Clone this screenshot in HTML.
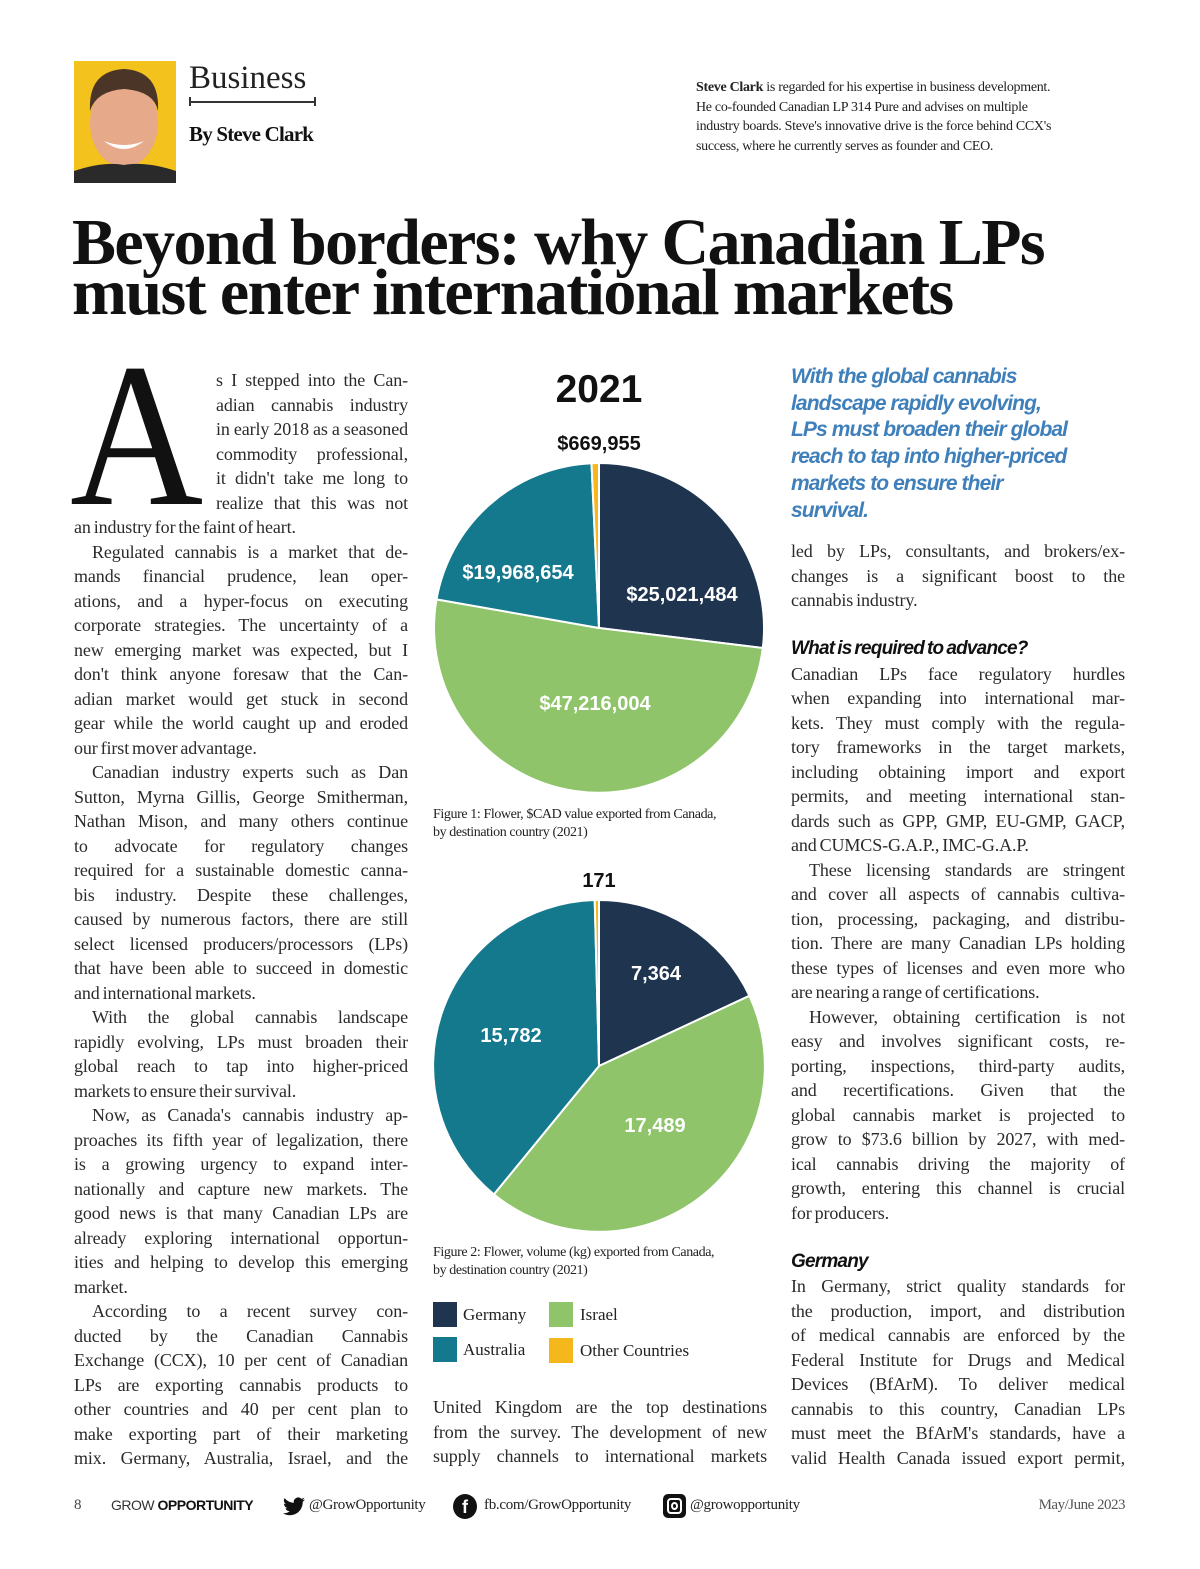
<!DOCTYPE html>
<html><head><meta charset="utf-8">
<style>
*{margin:0;padding:0;box-sizing:border-box}
html,body{width:1200px;height:1569px;background:#fff;overflow:hidden}
body{position:relative;font-family:"Liberation Serif",serif;color:#222}
.abs{position:absolute}
.col{position:absolute;font-size:18px;letter-spacing:-0.1px;word-spacing:-1.5px;color:#2a2a2a}
.l{height:24.5px;line-height:24.5px;text-align:justify;text-align-last:justify;overflow:hidden}
.e{text-align-last:left}
.i{text-indent:18px}
.h{font-family:"Liberation Sans",sans-serif;font-weight:bold;font-style:italic;font-size:19px;letter-spacing:-0.8px;color:#111;text-align-last:left}
.sans{font-family:"Liberation Sans",sans-serif}
.pl{font-family:"Liberation Sans",sans-serif;font-weight:bold;fill:#fff;font-size:20px;text-anchor:middle}
.ft{font-size:15px;color:#222;letter-spacing:-0.3px}
</style></head><body>

<svg class="abs" style="left:74px;top:61px" width="102" height="122" viewBox="0 0 102 122">
<rect width="102" height="122" fill="#f4c21c"/>
<ellipse cx="50" cy="62" rx="34" ry="44" fill="#e6a98a"/>
<path d="M16 50 Q14 10 50 8 Q86 10 84 50 Q80 30 50 28 Q22 30 16 50Z" fill="#4a3526"/>
<path d="M30 80 Q50 96 70 80 Q50 88 30 80Z" fill="#fff"/>
<path d="M0 122 L0 110 Q30 100 50 104 Q72 100 102 110 L102 122Z" fill="#2a2a2a"/>
</svg>
<div class="abs" style="left:189px;top:60px;font-size:33px;font-weight:300;color:#222">Business</div>
<div class="abs" style="left:189px;top:101px;width:127px;height:1.5px;background:#333"></div>
<div class="abs" style="left:189px;top:97px;width:1.5px;height:9px;background:#333"></div>
<div class="abs" style="left:314px;top:97px;width:1.5px;height:9px;background:#333"></div>
<div class="abs" style="left:189px;top:122px;font-size:21px;font-weight:bold;letter-spacing:-0.8px;color:#111">By Steve Clark</div>

<div class="abs" style="left:696px;top:78px;width:440px;font-size:14px;line-height:19.5px;letter-spacing:-0.3px;color:#222">
<b>Steve Clark</b> is regarded for his expertise in business development.<br>He co-founded Canadian LP 314 Pure and advises on multiple<br>industry boards. Steve's innovative drive is the force behind CCX's<br>success, where he currently serves as founder and CEO.</div>

<div class="abs" style="left:72px;top:218px;font-size:66px;line-height:50px;font-weight:bold;letter-spacing:-1.6px;color:#111;white-space:nowrap">Beyond borders: why Canadian LPs<br>must enter international markets</div>

<div class="abs" style="left:70px;top:333px;font-size:205px;line-height:205px;transform:scaleX(0.9);transform-origin:left top;color:#111">A</div>

<div class="col" style="left:74px;top:368px;width:334px">
<div class="l" style="margin-left:142px">s I stepped into the Can-</div>
<div class="l" style="margin-left:142px">adian cannabis industry</div>
<div class="l" style="margin-left:142px">in early 2018 as a seasoned</div>
<div class="l" style="margin-left:142px">commodity professional,</div>
<div class="l" style="margin-left:142px">it didn't take me long to</div>
<div class="l" style="margin-left:142px">realize that this was not</div>
<div class="l e">an industry for the faint of heart.</div>
<div class="l i">Regulated cannabis is a market that de-</div>
<div class="l">mands financial prudence, lean oper-</div>
<div class="l">ations, and a hyper-focus on executing</div>
<div class="l">corporate strategies. The uncertainty of a</div>
<div class="l">new emerging market was expected, but I</div>
<div class="l">don't think anyone foresaw that the Can-</div>
<div class="l">adian market would get stuck in second</div>
<div class="l">gear while the world caught up and eroded</div>
<div class="l e">our first mover advantage.</div>
<div class="l i">Canadian industry experts such as Dan</div>
<div class="l">Sutton, Myrna Gillis, George Smitherman,</div>
<div class="l">Nathan Mison, and many others continue</div>
<div class="l">to advocate for regulatory changes</div>
<div class="l">required for a sustainable domestic canna-</div>
<div class="l">bis industry. Despite these challenges,</div>
<div class="l">caused by numerous factors, there are still</div>
<div class="l">select licensed producers/processors (LPs)</div>
<div class="l">that have been able to succeed in domestic</div>
<div class="l e">and international markets.</div>
<div class="l i">With the global cannabis landscape</div>
<div class="l">rapidly evolving, LPs must broaden their</div>
<div class="l">global reach to tap into higher-priced</div>
<div class="l e">markets to ensure their survival.</div>
<div class="l i">Now, as Canada's cannabis industry ap-</div>
<div class="l">proaches its fifth year of legalization, there</div>
<div class="l">is a growing urgency to expand inter-</div>
<div class="l">nationally and capture new markets. The</div>
<div class="l">good news is that many Canadian LPs are</div>
<div class="l">already exploring international opportun-</div>
<div class="l">ities and helping to develop this emerging</div>
<div class="l e">market.</div>
<div class="l i">According to a recent survey con-</div>
<div class="l">ducted by the Canadian Cannabis</div>
<div class="l">Exchange (CCX), 10 per cent of Canadian</div>
<div class="l">LPs are exporting cannabis products to</div>
<div class="l">other countries and 40 per cent plan to</div>
<div class="l">make exporting part of their marketing</div>
<div class="l">mix. Germany, Australia, Israel, and the</div>
</div>

<div class="abs sans" style="left:433px;top:368px;width:332px;text-align:center;font-size:39px;font-weight:bold;color:#111">2021</div>
<div class="abs sans" style="left:433px;top:433px;width:332px;text-align:center;font-size:20px;font-weight:bold;color:#111">$669,955</div>
<svg class="abs" style="left:0;top:0" width="1200" height="1569">
<g stroke="#fff" stroke-width="2" stroke-linejoin="round">
<path d="M599 628 L599 463 A165 165 0 0 1 762.8 648 Z" fill="#1e344f"/>
<path d="M599 628 L762.8 648 A165 165 0 1 1 436.5 599.4 Z" fill="#8fc46a"/>
<path d="M599 628 L436.5 599.4 A165 165 0 0 1 591.5 463.2 Z" fill="#15798e"/>
<path d="M599 628 L591.5 463.2 A165 165 0 0 1 599 463 Z" fill="#f4b71c"/>
<path d="M599 1066 L599 900 A166 166 0 0 1 749.4 995.8 Z" fill="#1e344f"/>
<path d="M599 1066 L749.4 995.8 A166 166 0 0 1 493.9 1194.4 Z" fill="#8fc46a"/>
<path d="M599 1066 L493.9 1194.4 A166 166 0 0 1 594.7 900.05 Z" fill="#15798e"/>
<path d="M599 1066 L594.7 900.05 A166 166 0 0 1 599 900 Z" fill="#f4b71c"/>
</g>
<text class="pl" x="518" y="579">$19,968,654</text>
<text class="pl" x="682" y="601">$25,021,484</text>
<text class="pl" x="595" y="710">$47,216,004</text>
<text class="pl" x="656" y="980">7,364</text>
<text class="pl" x="511" y="1042">15,782</text>
<text class="pl" x="655" y="1132">17,489</text>
</svg>
<div class="abs" style="left:433px;top:806px;font-size:14px;line-height:18px;letter-spacing:-0.4px;color:#222">Figure 1: Flower, $CAD value exported from Canada,<br>by destination country (2021)</div>
<div class="abs sans" style="left:433px;top:870px;width:332px;text-align:center;font-size:20px;font-weight:bold;color:#111">171</div>
<div class="abs" style="left:433px;top:1244px;font-size:14px;line-height:18px;letter-spacing:-0.4px;color:#222">Figure 2: Flower, volume (kg) exported from Canada,<br>by destination country (2021)</div>
<div class="abs" style="left:433px;top:1302px;width:24px;height:25px;background:#1e344f"></div>
<div class="abs" style="left:433px;top:1337px;width:24px;height:25px;background:#15798e"></div>
<div class="abs" style="left:549px;top:1302px;width:24px;height:25px;background:#8fc46a"></div>
<div class="abs" style="left:549px;top:1338px;width:24px;height:25px;background:#f4b71c"></div>
<div class="abs" style="left:463px;top:1305px;font-size:17px;color:#222">Germany</div>
<div class="abs" style="left:463px;top:1340px;font-size:17px;color:#222">Australia</div>
<div class="abs" style="left:580px;top:1305px;font-size:17px;color:#222">Israel</div>
<div class="abs" style="left:580px;top:1341px;font-size:17px;color:#222">Other Countries</div>

<div class="col" style="left:433px;top:1395px;width:334px">
<div class="l">United Kingdom are the top destinations</div>
<div class="l">from the survey. The development of new</div>
<div class="l">supply channels to international markets</div>
</div>

<div class="abs sans" style="left:791px;top:364px;font-size:21px;line-height:26.7px;font-weight:bold;font-style:italic;letter-spacing:-0.9px;color:#3f7fba;white-space:nowrap">With the global cannabis<br>landscape rapidly evolving,<br>LPs must broaden their global<br>reach to tap into higher-priced<br>markets to ensure their<br>survival.</div>

<div class="col" style="left:791px;top:539px;width:334px">
<div class="l">led by LPs, consultants, and brokers/ex-</div>
<div class="l">changes is a significant boost to the</div>
<div class="l e">cannabis industry.</div>
<div class="l"></div>
<div class="l h">What is required to advance?</div>
<div class="l">Canadian LPs face regulatory hurdles</div>
<div class="l">when expanding into international mar-</div>
<div class="l">kets. They must comply with the regula-</div>
<div class="l">tory frameworks in the target markets,</div>
<div class="l">including obtaining import and export</div>
<div class="l">permits, and meeting international stan-</div>
<div class="l">dards such as GPP, GMP, EU-GMP, GACP,</div>
<div class="l e">and CUMCS-G.A.P., IMC-G.A.P.</div>
<div class="l i">These licensing standards are stringent</div>
<div class="l">and cover all aspects of cannabis cultiva-</div>
<div class="l">tion, processing, packaging, and distribu-</div>
<div class="l">tion. There are many Canadian LPs holding</div>
<div class="l">these types of licenses and even more who</div>
<div class="l e">are nearing a range of certifications.</div>
<div class="l i">However, obtaining certification is not</div>
<div class="l">easy and involves significant costs, re-</div>
<div class="l">porting, inspections, third-party audits,</div>
<div class="l">and recertifications. Given that the</div>
<div class="l">global cannabis market is projected to</div>
<div class="l">grow to $73.6 billion by 2027, with med-</div>
<div class="l">ical cannabis driving the majority of</div>
<div class="l">growth, entering this channel is crucial</div>
<div class="l e">for producers.</div>
<div class="l"></div>
<div class="l h">Germany</div>
<div class="l">In Germany, strict quality standards for</div>
<div class="l">the production, import, and distribution</div>
<div class="l">of medical cannabis are enforced by the</div>
<div class="l">Federal Institute for Drugs and Medical</div>
<div class="l">Devices (BfArM). To deliver medical</div>
<div class="l">cannabis to this country, Canadian LPs</div>
<div class="l">must meet the BfArM's standards, have a</div>
<div class="l">valid Health Canada issued export permit,</div>
</div>

<div class="abs" style="left:74px;top:1497px;font-size:15px;color:#444">8</div>
<div class="abs sans" style="left:111px;top:1497px;font-size:14px;color:#333;letter-spacing:-0.5px">GROW <b style="color:#111">OPPORTUNITY</b></div>
<svg class="abs" style="left:283px;top:1497px" width="22" height="19" viewBox="0 0 24 20"><path d="M24 2.4a9.8 9.8 0 0 1-2.8.8A4.9 4.9 0 0 0 23.3.5a9.9 9.9 0 0 1-3.1 1.2A4.9 4.9 0 0 0 11.8 6 14 14 0 0 1 1.7.9a4.9 4.9 0 0 0 1.5 6.6A4.9 4.9 0 0 1 1 6.9a4.9 4.9 0 0 0 3.9 4.8 4.9 4.9 0 0 1-2.2.1 4.9 4.9 0 0 0 4.6 3.4A9.9 9.9 0 0 1 0 17.3 14 14 0 0 0 7.5 19.5c9.1 0 14-7.5 14-14v-.6A10 10 0 0 0 24 2.4z" fill="#111"/></svg>
<div class="abs ft" style="left:309px;top:1497px">@GrowOpportunity</div>
<div class="abs" style="left:453px;top:1494px;width:24px;height:25px;border-radius:50%;background:#111;color:#fff;font:bold 18px 'Liberation Sans',sans-serif;text-align:center;line-height:27px">f</div>
<div class="abs ft" style="left:484px;top:1497px">fb.com/GrowOpportunity</div>
<div class="abs" style="left:663px;top:1494px;width:23px;height:24px;border-radius:5px;background:#111"></div>
<div class="abs" style="left:667px;top:1498px;width:15px;height:16px;border:2px solid #fff;border-radius:4px"></div>
<div class="abs" style="left:671px;top:1502px;width:7px;height:8px;border:2px solid #fff;border-radius:50%"></div>
<div class="abs ft" style="left:690px;top:1497px">@growopportunity</div>
<div class="abs" style="left:925px;top:1497px;width:200px;text-align:right;font-size:15px;color:#555;letter-spacing:-0.5px">May/June 2023</div>
</body></html>
